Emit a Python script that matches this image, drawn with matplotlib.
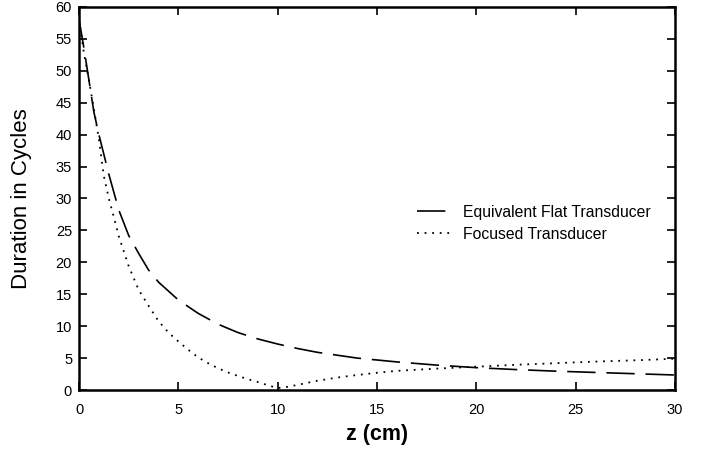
import matplotlib
matplotlib.use('Agg')
import matplotlib.pyplot as plt

plt.rcParams['font.family'] = ['Liberation Sans', 'DejaVu Sans']

# distance from transducer (cm) and pulse duration (cycles)
z_flat = [0, 0.25, 0.5, 0.75, 1, 1.5, 2, 2.5, 3, 3.5, 4, 5, 6, 7, 8, 9, 10, 11, 12, 14, 16,
          18, 20, 22, 24, 26, 28, 30]
dur_flat = [58, 53.5, 48.5, 43.5, 40, 33.8, 28.2, 24.2, 21.4, 18.8, 16.9, 14.1, 12.0, 10.3,
            9.0, 8.0, 7.2, 6.5, 5.9, 5.0, 4.4, 3.9, 3.5, 3.2, 2.95, 2.75, 2.55, 2.35]

z_foc = [0, 0.25, 0.5, 0.75, 1, 1.25, 1.5, 1.75, 2, 2.5, 3, 3.5, 4, 4.5, 5, 5.5, 6, 6.5, 7,
         7.5, 8, 8.5, 9, 9.5, 10, 10.5, 11, 12, 13, 14, 15, 16, 18, 20, 22, 24, 26, 28, 30]
dur_foc = [58, 52.7, 48.5, 44.0, 39.3, 33.5, 30.0, 27.1, 24.1, 19.4, 15.7, 13.2, 10.8, 9.0,
           7.6, 6.3, 5.1, 4.2, 3.4, 2.75, 2.2, 1.7, 1.25, 0.75, 0.3, 0.5, 0.8, 1.45, 1.95,
           2.35, 2.7, 3.0, 3.35, 3.65, 3.95, 4.2, 4.45, 4.65, 4.9]

xticks = [0, 5, 10, 15, 20, 25, 30]
yticks = list(range(0, 61, 5))

fig = plt.figure(figsize=(7.12, 4.61), dpi=100)
ax = fig.add_axes([0.111, 0.154, 0.837, 0.831])

ax.plot(z_flat, dur_flat, color='black', lw=1.2, dashes=(17, 6.5), label='Equivalent Flat Transducer')
ax.plot(z_foc, dur_foc, color='black', lw=1.3, linestyle=(0, (1, 3.2)), label='Focused Transducer')

ax.set_xlim(0, 30)
ax.set_ylim(0, 60)
ax.set_xticks(xticks)
ax.set_yticks(yticks)
ax.tick_params(direction='in', length=6, width=1.2, top=True, right=True, labelsize=10.5)
ax.tick_params(axis='x', pad=9)
ax.tick_params(axis='y', pad=5)
for s in ax.spines.values():
    s.set_linewidth(1.8)

ax.set_xlabel('z (cm)', fontsize=15.5, fontweight='bold')
ax.set_ylabel('Duration in Cycles', fontsize=16)
ax.xaxis.set_label_coords(0.5, -0.088)
ax.yaxis.set_label_coords(-0.079, 0.5)

ax.legend(loc='center left', bbox_to_anchor=(0.567, 0.435), frameon=False, fontsize=11.3,
          borderpad=0, borderaxespad=0, handlelength=2.1, handletextpad=0.83, labelspacing=0.45)

fig.savefig('out.png', dpi=100)
